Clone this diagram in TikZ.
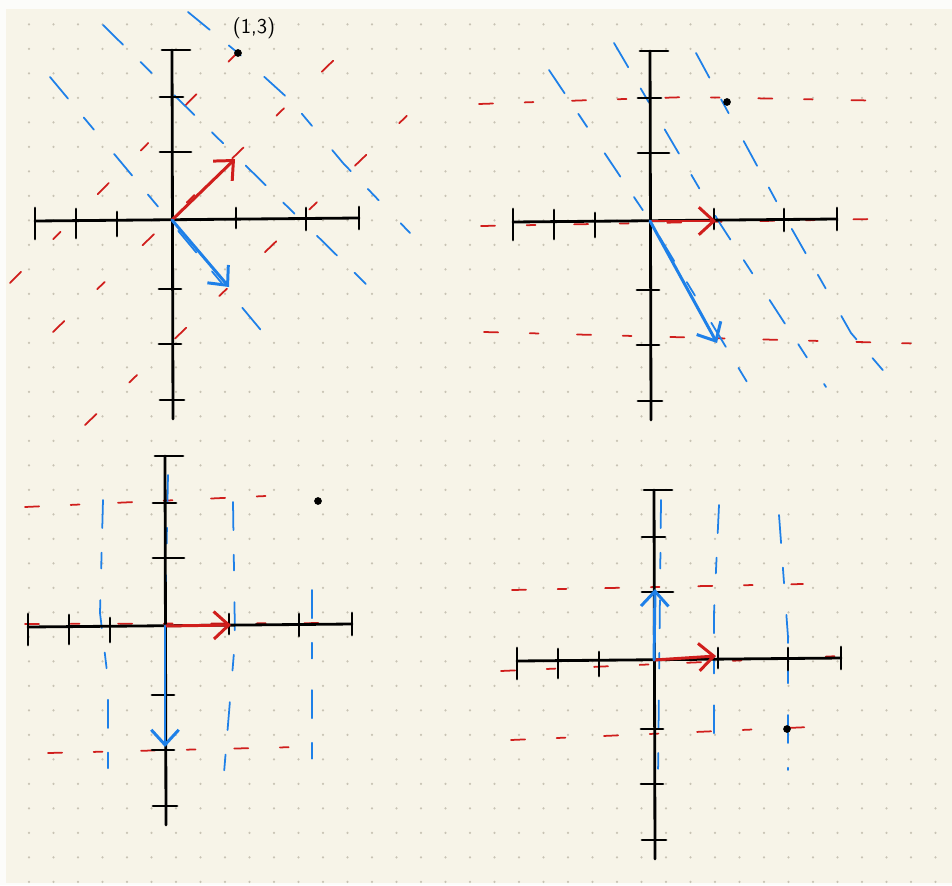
\documentclass[tikz,border=0pt]{standalone}
\usepackage{tikz}
\usetikzlibrary{arrows.meta}
\definecolor{paper}{RGB}{247,244,232}
\definecolor{margincolor}{RGB}{252,252,250}
\definecolor{dotcolor}{RGB}{200,195,180}
\definecolor{penred}{RGB}{208,30,28}
\definecolor{penblue}{RGB}{30,128,232}

% hand drawn axes with ticks, coordinates relative to the origin
\tikzset{
	handaxes/.pic={
		\draw[axisline] (-137,1) -- (187,-2);
		\draw[axisline] (0,-170) -- (1,199);
		\foreach \x/\a/\b in {-137/-12/19, -96/-11/18, -55/-8/16, 64/-12/8, 134/-12/10, 187/-13/9}
		\draw[axisline] (\x,\a) -- (\x,\b);
		\foreach \y/\a/\b in {-170/-10/18, -123/-12/11, -68/-12/19, 69/-13/9, 124/-13/9, 180/-12/12}
		\draw[axisline] (\a,\y) -- (\b,\y);
	}
}

\begin{document}
\begin{tikzpicture}[
			x=0.02cm, y=-0.02cm,
			axisline/.style={
				draw=black,
				line width=1.6pt,
				line cap=round
			},
			redgrid/.style={
				draw=penred,
				line width=1pt,
				line cap=round,
				dash pattern=on 8pt off 18pt on 5pt off 22pt
			},
			sparse/.style={
				dash pattern=on 9pt off 26pt on 6pt off 30pt
			},
			bluegrid/.style={
				draw=penblue,
				line width=1pt,
				line cap=round,
				dash pattern=on 16pt off 14pt on 9pt off 18pt
			},
			ivec/.style={
				draw=penred,
				line width=1.7pt,
				line cap=round,
				-{Straight Barb[length=3mm,width=5.5mm]}
			},
			jvec/.style={
				draw=penblue,
				line width=1.7pt,
				line cap=round,
				-{Straight Barb[length=3mm,width=5.5mm]}
			},
			pointdot/.style={fill=black}
			]
			
			\useasboundingbox (0,0) rectangle (952,885);
			
			% Paper
			\fill[margincolor] (0,0) rectangle (952,885);
			\fill[paper] (6,9) rectangle (952,883);
			\foreach \i in {0,...,37}
			\foreach \j in {0,...,35}
			\fill[dotcolor] (29+24.5*\i,24.4+24.5*\j) circle (0.7pt);
			
			% Origins, basis tips and points
			\coordinate (o1) at (172,220);
			\coordinate (i1) at (235,159);
			\coordinate (j1) at (229,287);
			\coordinate (p1) at (238,53);
			
			\coordinate (o2) at (650,221);
			\coordinate (i2) at (716,221);
			\coordinate (j2) at (717,343);
			\coordinate (p2) at (727,102);
			
			\coordinate (o3) at (165,626);
			\coordinate (i3) at (231,625);
			\coordinate (j3) at (165,747);
			\coordinate (p3) at (318,501);
			
			\coordinate (o4) at (654,660);
			\coordinate (i4) at (716,656);
			\coordinate (j4) at (655,589);
			\coordinate (p4) at (787,729);
			
			% Top left grid
			\draw[redgrid,sparse] (10,283) -- (245,45);
			\draw[redgrid,sparse] (53,332) -- (338,56);
			\draw[redgrid,sparse] (85,425) -- (440,84);
			\draw[bluegrid] (50,77) -- (265,335);
			\draw[bluegrid] (103,25) -- (370,288);
			\draw[bluegrid] (188,12) -- (238,53) -- (292,102) -- (343,163) -- (410,233);
			
			% Top right grid
			\draw[redgrid] (479,104) -- (593,100) -- (689,97) -- (896,101);
			\draw[redgrid] (481,226) -- (874,219);
			\draw[redgrid] (484,332) -- (933,344);
			\draw[bluegrid] (549,70) -- (650,221) -- (753,392);
			\draw[bluegrid] (614,43) -- (719,222) -- (826,387);
			\draw[bluegrid] (696,53) -- (781,210) -- (851,333) -- (893,382);
			
			% Bottom left grid
			\draw[redgrid] (25,507) -- (288,495);
			\draw[redgrid] (25,624) -- (350,623);
			\draw[redgrid] (48,753) -- (298,747);
			\draw[bluegrid] (103,500) -- (100,613) -- (108,680) -- (108,777);
			\draw[bluegrid] (233,502) -- (235,640) -- (224,773);
			\draw[bluegrid] (312,590) -- (312,763);
			\draw[bluegrid] (168,475) -- (165,626);
			
			% Bottom right grid
			\draw[redgrid] (512,590) -- (803,584);
			\draw[redgrid] (501,671) -- (840,656);
			\draw[redgrid] (511,740) -- (833,726);
			\draw[bluegrid] (719,505) -- (714,613) -- (714,757);
			\draw[bluegrid] (779,515) -- (788,637) -- (788,770);
			\draw[bluegrid] (661,500) -- (658,777);
			
			% Axes
			\pic at (o1) {handaxes};
			\pic at (o2) {handaxes};
			\pic at (o3) {handaxes};
			\pic at (o4) {handaxes};
			
			% Basis vectors
			\draw[ivec] (o1) -- (i1);
			\draw[jvec] (o1) -- (j1);
			\draw[ivec] (o2) -- (i2);
			\draw[jvec] (o2) -- (j2);
			\draw[ivec] (o3) -- (i3);
			\draw[jvec] (o3) -- (j3);
			\draw[ivec] (o4) -- (i4);
			\draw[jvec] (o4) -- (j4);
			
			% Points
			\fill[pointdot] (p1) circle (2.2pt);
			\fill[pointdot] (p2) circle (2.2pt);
			\fill[pointdot] (p3) circle (2.2pt);
			\fill[pointdot] (p4) circle (2.2pt);
			\node[font=\sffamily\large] (lbl1) at (254,28) {(1,3)};
			
		\end{tikzpicture}
\end{document}
